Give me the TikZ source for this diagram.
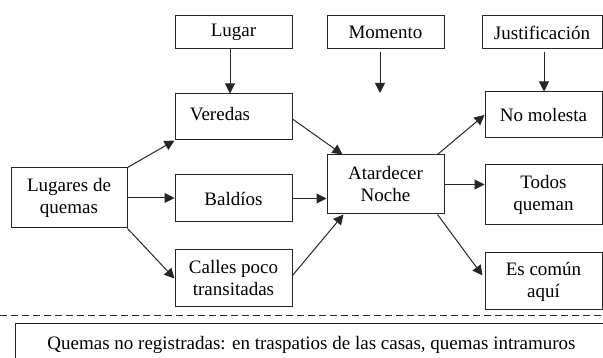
\documentclass[tikz,border=0pt]{standalone}
\usepackage{fontspec}
\setmainfont{Liberation Serif}
\usetikzlibrary{arrows.meta,calc}
\begin{document}
\begin{tikzpicture}[x=1pt,y=-1pt,
  box/.style={draw=black!85,line width=1pt,inner sep=0pt,align=center,
    font=\fontsize{19}{22}\selectfont},
  lbl/.style={inner sep=0pt,align=center,font=\fontsize{19}{22}\selectfont},
  arr/.style={draw=black!85,line width=1pt,-{Triangle[length=10pt,width=10pt]}}]
\useasboundingbox (0,0) rectangle (603,358);
\clip (0,0) rectangle (603,358);
% top category boxes
\node[box,minimum width=117,minimum height=33] (lugar) at (233.5,32.5) {Lugar};
\node[box,minimum width=117,minimum height=33] (mom) at (385.5,32.5) {Momento};
\node[box,minimum width=120,minimum height=33] (just) at (542,32.5) {Justificación};
% left
\node[box,minimum width=116,minimum height=60] (lug) at (69,198) {Lugares de\\quemas};
% middle column
\node[box,minimum width=117,minimum height=46] (ver) at (233.5,117) {};
\node[lbl] (vert) at (220,114) {Veredas};
\node[box,minimum width=117,minimum height=47] (bal) at (233.5,198.5) {Baldíos};
\node[box,minimum width=117,minimum height=57] (cal) at (233.5,278.5) {Calles poco\\transitadas};
% center
\node[box,minimum width=117,minimum height=59] (ata) at (385.5,184.5) {Atardecer\\Noche};
% right column
\node[box,minimum width=117,minimum height=46] (nom) at (543.5,115) {No molesta};
\node[box,minimum width=117,minimum height=60] (tod) at (543.5,195) {Todos\\queman};
\node[box,minimum width=117,minimum height=57] (esc) at (543.5,281.5) {Es común\\aquí};
% arrows from top boxes
\coordinate (momend) at (380,93);
\draw[arr] (lugar.south -| 230,0) -- (ver.north -| 230,0);
\draw[arr] ($(mom.south)+(-5.5,3)$) -- (momend);
\draw[arr] ($(just.south)+(2,3)$) -- (nom.north -| 544,0);
% from Lugares
\draw[arr] (lug.north east) -- (ver.south west);
\draw[arr] (lug.east) -- (bal.west |- lug.east);
\draw[arr] (lug.south east) -- (cal.west);
% into Atardecer
\draw[arr] ($(ver.east)+(0,2)$) -- ($(ata.north west)+(16,0)$);
\draw[arr] (bal.east) -- (ata.west |- bal.east);
\draw[arr] ($(cal.east)+(0,-3)$) -- ($(ata.south west)+(17,0)$);
% out of Atardecer
\draw[arr] ($(ata.north east)+(-7,0)$) -- (nom.west);
\draw[arr] (ata.east) -- (tod.west |- ata.east);
\draw[arr] ($(ata.south east)+(-7,0)$) -- ($(esc.west)+(-2,-6)$);
% dashed separator and bottom box
\coordinate (dl) at (0,316);
\coordinate (dr) at (603,316);
\draw[black!85,line width=1pt,dash pattern=on 7pt off 4pt] (dl) -- (dr);
\node[box,line width=1.3pt,minimum width=600,minimum height=50,anchor=north west] (bot) at (15,323) {};
\node[lbl] (bott) at (311.5,345) {Quemas no registradas: en traspatios de las casas, quemas intramuros};
\end{tikzpicture}
\end{document}
